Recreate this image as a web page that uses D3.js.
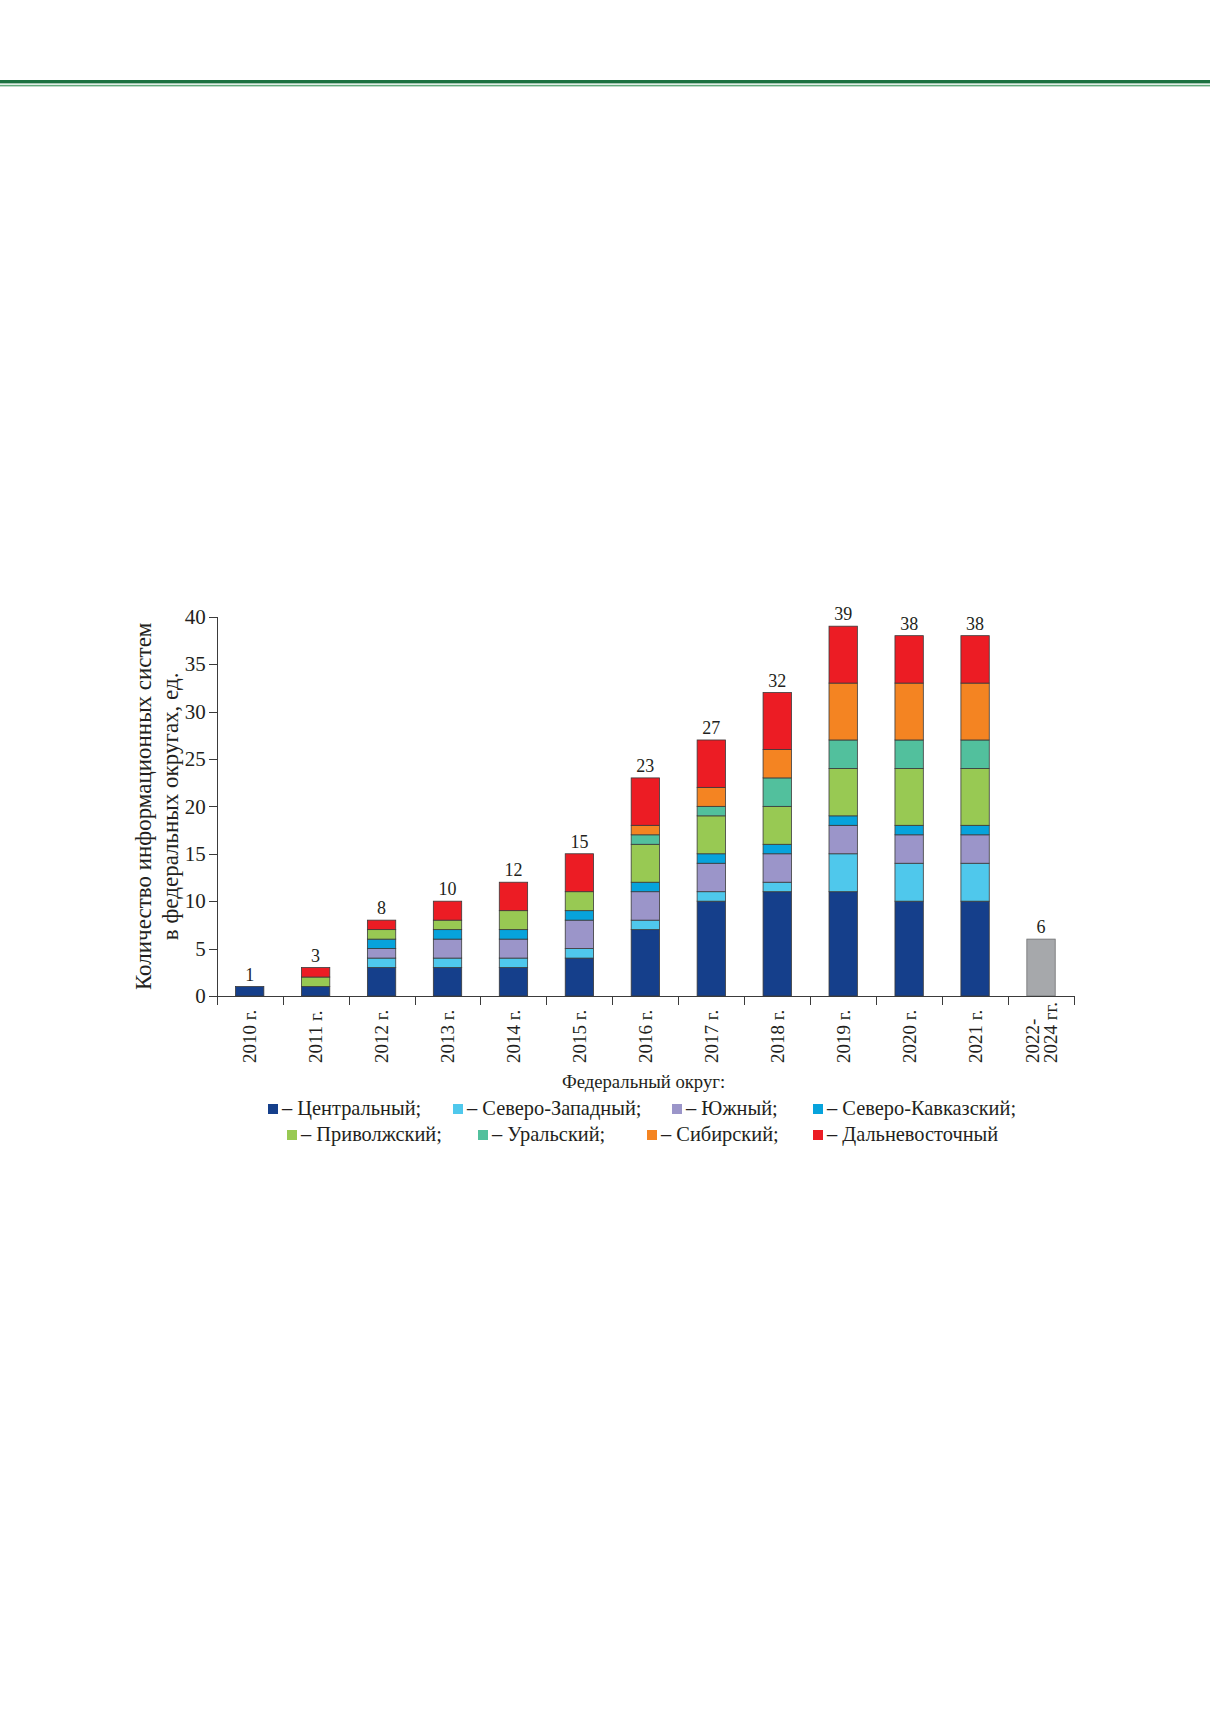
<!DOCTYPE html>
<head>
<meta charset="utf-8">
<title>Информационные системы по федеральным округам</title>
<script type="text/javascript" src="https://d3js.org/d3.v7.min.js"></script>
<style>
body { margin: 0; background: #fff; }
svg { display: block; }
text { font-family: "Liberation Serif", "Times New Roman", serif; fill: #231f20; }
.axis path, .axis line { stroke: #3b3b3b; stroke-width: 1; shape-rendering: crispEdges; }
.axis text { font-size: 21px; }
.xlab { font-size: 19px; }
.total { font-size: 18px; }
.ytitle { font-size: 23px; }
.legend text { font-size: 20.4px; }
.seg { stroke: #3a3a3a; stroke-width: 0.8; }
</style>
</head>
<body>
<div id="container"></div>
<script>
//----------------------------DATA------------------------------//
const categories = ["2010 г.", "2011 г.", "2012 г.", "2013 г.", "2014 г.", "2015 г.",
    "2016 г.", "2017 г.", "2018 г.", "2019 г.", "2020 г.", "2021 г.", "2022-\n2024 гг."];

const central       = [1, 1, 3, 3, 3, 4, 7, 10, 11, 11, 10, 10, 0];
const northWest     = [0, 0, 1, 1, 1, 1, 1, 1, 1, 4, 4, 4, 0];
const south         = [0, 0, 1, 2, 2, 3, 3, 3, 3, 3, 3, 3, 0];
const northCaucasus = [0, 0, 1, 1, 1, 1, 1, 1, 1, 1, 1, 1, 0];
const volga         = [0, 1, 1, 1, 2, 2, 4, 4, 4, 5, 6, 6, 0];
const ural          = [0, 0, 0, 0, 0, 0, 1, 1, 3, 3, 3, 3, 0];
const siberian      = [0, 0, 0, 0, 0, 0, 1, 2, 3, 6, 6, 6, 0];
const farEast       = [0, 1, 1, 2, 3, 4, 5, 5, 6, 6, 5, 5, 0];
const planned       = [0, 0, 0, 0, 0, 0, 0, 0, 0, 0, 0, 0, 6];

const districtNames = ["Центральный", "Северо-Западный", "Южный", "Северо-Кавказский",
    "Приволжский", "Уральский", "Сибирский", "Дальневосточный"];
const districtColors = ["#153f8b", "#4fc8ec", "#9b95c9", "#07a3dc",
    "#98c953", "#52c09d", "#f48422", "#ec1c24"];
const plannedColor = "#a6a8ab";

const yTicks = [0, 5, 10, 15, 20, 25, 30, 35, 40];
const yTitle = ["Количество информационных систем", "в федеральных округах, ед."];
const legendTitle = "Федеральный округ:";

//---------------------------SVG--------------------------------//
const W = 1210, H = 1712;
const svg = d3.select("div#container").append("svg")
    .attr("width", W)
    .attr("height", H);

// header rules
svg.append("rect").attr("x", 0).attr("y", 80).attr("width", W).attr("height", 3.4).attr("fill", "#1b7140");
svg.append("rect").attr("x", 0).attr("y", 84.8).attr("width", W).attr("height", 1.6).attr("fill", "#63a97c");

//--------------------------SCALES------------------------------//
const x0 = 216.7, x1 = 1074, yBottom = 996, yTop = 616.7;

const xScale = d3.scaleBand()
    .domain(categories)
    .range([x0, x1])
    .paddingInner(0.57)
    .paddingOuter(0.285);

const yScale = d3.scaleLinear().domain([0, 40]).range([yBottom, yTop]);

const rows = categories.map(function(c, i) {
    const r = { cat: c };
    [central, northWest, south, northCaucasus, volga, ural, siberian, farEast]
        .forEach(function(arr, k) { r[districtNames[k]] = arr[i]; });
    r.planned = planned[i];
    return r;
});

const stack = d3.stack().keys(districtNames.concat(["planned"]));
const series = stack(rows);
const colorOf = function(key) {
    const k = districtNames.indexOf(key);
    return k >= 0 ? districtColors[k] : plannedColor;
};

//---------------------------BARS-------------------------------//
const layers = svg.append("g").selectAll("g")
    .data(series)
    .enter().append("g")
    .attr("fill", function(d) { return colorOf(d.key); });

layers.selectAll("rect")
    .data(function(d) { return d.filter(function(p) { return p[1] > p[0]; })
        .map(function(p) { p.key = d.key; return p; }); })
    .enter().append("rect")
    .attr("class", "seg")
    .attr("x", function(d) { return xScale(d.data.cat); })
    .attr("y", function(d) { return yScale(d[1]); })
    .attr("width", xScale.bandwidth())
    .attr("height", function(d) { return yScale(d[0]) - yScale(d[1]); })
    .style("stroke", function(d) { return d.key === "planned" ? "#6d6e70" : null; });

// totals
const totals = rows.map(function(r, i) {
    return { cat: r.cat, value: d3.sum(series, function(s) { return s[i][1] - s[i][0]; }) };
});

svg.append("g").selectAll("text")
    .data(totals)
    .enter().append("text")
    .attr("class", "total")
    .attr("text-anchor", "middle")
    .attr("x", function(d) { return xScale(d.cat) + xScale.bandwidth() / 2; })
    .attr("y", function(d) { return yScale(d.value) - 6; })
    .text(function(d) { return d.value; });

//---------------------------AXES-------------------------------//
const yAxis = d3.axisLeft(yScale)
    .tickValues(yTicks)
    .tickSize(8)
    .tickSizeOuter(0)
    .tickPadding(3);

const yg = svg.append("g")
    .attr("class", "axis")
    .attr("transform", "translate(" + x0 + ",0)")
    .call(yAxis);
yg.selectAll("text").attr("fill", "#231f20");

// x axis: baseline plus ticks on band boundaries
const step = xScale.step();
const bounds = d3.range(categories.length + 1).map(function(i) { return x0 + i * step; });
const xAxisScale = d3.scaleLinear().domain([x0, x1]).range([x0, x1]);
const xAxis = d3.axisBottom(xAxisScale)
    .tickValues(bounds)
    .tickSize(9)
    .tickSizeOuter(0)
    .tickFormat("");

svg.append("g")
    .attr("class", "axis")
    .attr("transform", "translate(0," + yBottom + ")")
    .call(xAxis);

// rotated category labels
const xl = svg.append("g").selectAll("text")
    .data(categories)
    .enter().append("text")
    .attr("class", "xlab")
    .attr("text-anchor", "start")
    .attr("transform", function(d) {
        return "translate(" + (xScale(d) + xScale.bandwidth() / 2) + ",1063) rotate(-90)";
    });

xl.each(function(d) {
    const lines = d.split("\n");
    const t = d3.select(this);
    lines.forEach(function(line, i) {
        t.append("tspan")
            .attr("x", 0)
            .attr("dy", i === 0 ? (0.35 - (lines.length - 1) * 0.47) + "em" : "0.94em")
            .text(line);
    });
});

// y title
const yt = svg.append("text")
    .attr("class", "ytitle")
    .attr("text-anchor", "middle")
    .attr("transform", "translate(158," + ((yBottom + yTop) / 2) + ") rotate(-90)");
yTitle.forEach(function(line, i) {
    yt.append("tspan")
        .attr("x", 0)
        .attr("dy", i === 0 ? "-0.3em" : "1.15em")
        .text(line);
});

//--------------------------LEGEND------------------------------//
const legend = svg.append("g").attr("class", "legend");

legend.append("text")
    .attr("x", 643.5)
    .attr("y", 1088)
    .attr("text-anchor", "middle")
    .style("font-size", "18.7px")
    .text(legendTitle);

const legendRows = [
    { y: 1115, xs: [268, 453, 672, 813], keys: [0, 1, 2, 3] },
    { y: 1141, xs: [287, 478, 647, 813], keys: [4, 5, 6, 7] }
];

legendRows.forEach(function(row) {
    row.keys.forEach(function(k, j) {
        const g = legend.append("g").attr("transform", "translate(" + row.xs[j] + "," + row.y + ")");
        g.append("rect")
            .attr("x", 0).attr("y", -11)
            .attr("width", 10).attr("height", 10)
            .attr("fill", districtColors[k]);
        g.append("text")
            .attr("x", 14)
            .attr("y", 0)
            .text("– " + districtNames[k] + (k === 7 ? "" : ";"));
    });
});
</script>
</body>
